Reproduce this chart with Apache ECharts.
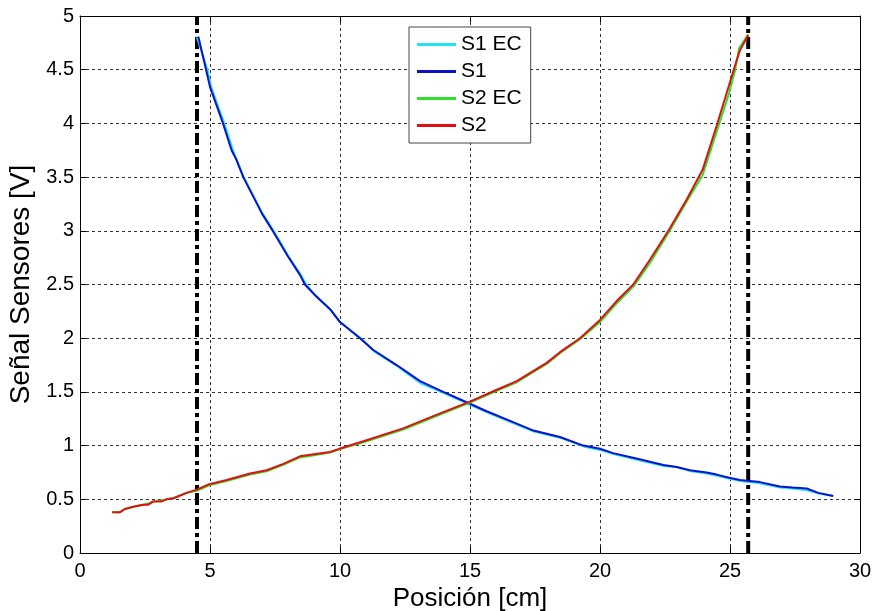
<!DOCTYPE html>
<html>
<head>
<meta charset="utf-8">
<script src="https://cdn.jsdelivr.net/npm/echarts@6/dist/echarts.min.js"></script>
<style>
  html, body { margin: 0; padding: 0; background: #fff; }
  #chart { width: 874px; height: 611px; }
</style>
</head>
<body>
<div id="chart"></div>
<script>
// Sensor 1 signal vs position (measured and EC variant)
const s1X   = [4.55, 4.85, 5.0, 5.5, 5.83, 6.0, 6.28, 7.0, 7.41, 8.0, 8.46, 8.65, 9.0, 9.62, 10.0, 10.77, 11.28, 12.18, 13.08, 13.97, 15.0, 15.64, 16.54, 17.44, 18.46, 19.36, 20.0, 20.5, 21.4, 22.44, 22.95, 23.46, 24.1, 24.49, 24.97, 25.38, 26.15, 26.92, 27.4, 27.95, 28.4, 28.97];
const s1Y   = [4.81, 4.5, 4.34, 4.0, 3.75, 3.67, 3.5, 3.16, 3.0, 2.76, 2.59, 2.5, 2.41, 2.27, 2.15, 2.0, 1.89, 1.75, 1.6, 1.5, 1.39, 1.32, 1.23, 1.14, 1.08, 1.0, 0.97, 0.93, 0.88, 0.82, 0.8, 0.77, 0.75, 0.73, 0.7, 0.68, 0.66, 0.62, 0.61, 0.6, 0.56, 0.53];
const s1ecX = [4.5, 4.9, 5.06, 5.55, 5.9, 6.3, 7.02, 7.45, 8.05, 8.52, 8.7, 9.05, 9.65, 10.0, 10.8, 11.3, 12.2, 13.1, 14.0, 15.0, 15.66, 16.56, 17.46, 18.5, 19.4, 20.0, 20.55, 21.4, 22.44, 22.95, 23.5, 24.1, 24.5, 25.0, 25.4, 26.15, 26.92, 27.4, 27.95, 28.4, 28.97];
const s1ecY = [4.8, 4.5, 4.33, 4.0, 3.74, 3.5, 3.16, 3.0, 2.75, 2.58, 2.5, 2.4, 2.26, 2.15, 2.0, 1.88, 1.74, 1.58, 1.49, 1.38, 1.31, 1.22, 1.13, 1.07, 0.99, 0.96, 0.92, 0.87, 0.81, 0.8, 0.76, 0.74, 0.72, 0.69, 0.67, 0.65, 0.61, 0.6, 0.585, 0.555, 0.53];

// Sensor 2 signal vs position (measured and EC variant)
const s2X   = [1.24, 1.54, 1.73, 2.05, 2.43, 2.63, 2.82, 3.14, 3.33, 3.59, 4.1, 4.49, 4.97, 5.64, 6.54, 7.18, 7.82, 8.46, 9.0, 9.62, 9.97, 10.9, 12.43, 13.85, 15.0, 16.03, 16.8, 17.95, 18.46, 19.23, 20.0, 20.7, 21.28, 21.92, 22.63, 23.33, 23.95, 24.49, 24.87, 25.17, 25.38, 25.7];
const s2Y   = [0.38, 0.38, 0.41, 0.43, 0.45, 0.45, 0.48, 0.48, 0.5, 0.51, 0.56, 0.59, 0.64, 0.68, 0.74, 0.77, 0.83, 0.9, 0.92, 0.94, 0.97, 1.04, 1.16, 1.3, 1.41, 1.52, 1.6, 1.77, 1.87, 2.0, 2.17, 2.36, 2.5, 2.73, 3.0, 3.29, 3.57, 3.98, 4.28, 4.52, 4.68, 4.82];
const s2ecX = [1.24, 1.54, 1.73, 2.05, 2.43, 2.63, 2.82, 3.14, 3.33, 3.59, 4.1, 4.49, 4.97, 5.64, 6.54, 7.18, 7.82, 8.46, 9.0, 9.62, 9.97, 10.9, 12.43, 13.85, 15.0, 16.03, 16.8, 17.95, 18.46, 19.23, 20.0, 20.7, 21.28, 21.92, 22.63, 23.33, 23.95, 24.55, 24.95, 25.2, 25.35, 25.7];
const s2ecY = [0.38, 0.38, 0.41, 0.43, 0.45, 0.46, 0.48, 0.49, 0.5, 0.51, 0.56, 0.58, 0.63, 0.67, 0.73, 0.76, 0.82, 0.89, 0.91, 0.935, 0.965, 1.03, 1.15, 1.29, 1.4, 1.51, 1.59, 1.76, 1.86, 1.99, 2.15, 2.34, 2.48, 2.7, 2.98, 3.27, 3.52, 3.97, 4.27, 4.5, 4.7, 4.83];

// Limits of the usable range (vertical dash-dot markers)
const limitPositions = [4.5, 25.7];

const seriesNames = ['S1 EC', 'S1', 'S2 EC', 'S2'];
const xTicks = { min: 0, max: 30, step: 5 };
const yTicks = { min: 0, max: 5, step: 0.5 };

const FONT = "'Liberation Sans', Arial, Helvetica, sans-serif";

function pairs(xs, ys) { return xs.map((x, i) => [x, ys[i]]); }

function curve(name, xs, ys, color) {
  return {
    name: name, type: 'line', data: pairs(xs, ys),
    symbol: 'none', smooth: false, animation: false,
    lineStyle: { color: color, width: 2 },
    itemStyle: { color: color }, z: 3
  };
}

function limitLine(x) {
  return {
    type: 'line', data: [[x, yTicks.min], [x, yTicks.max]],
    symbol: 'none', animation: false, silent: true, z: 2,
    lineStyle: { color: '#000', width: 4, type: [12, 4, 4, 4], cap: 'butt' }
  };
}

const gridDash = { show: true, lineStyle: { color: '#333', width: 1, type: [3, 3] } };
const tickIn = { show: true, inside: true, length: 6, lineStyle: { color: '#000' } };
const axisBlack = { show: true, onZero: false, lineStyle: { color: '#000', width: 1 } };

const chart = echarts.init(document.getElementById('chart'), null, { renderer: 'canvas' });
chart.setOption({
  backgroundColor: '#fff',
  animation: false,
  textStyle: { fontFamily: FONT },
  grid: { left: 80, right: 14, top: 16, bottom: 58, containLabel: false, outerBoundsMode: 'none' },
  legend: {
    data: seriesNames,
    icon: 'rect',
    orient: 'vertical', left: 409, top: 27,
    backgroundColor: '#fff', borderColor: '#444', borderWidth: 1,
    padding: [7, 9, 7, 8], itemWidth: 39, itemHeight: 3, itemGap: 6,
    textStyle: { fontFamily: FONT, fontSize: 21, color: '#000' }
  },
  xAxis: [{
    type: 'value', min: xTicks.min, max: xTicks.max, interval: xTicks.step,
    name: 'Posición [cm]', nameLocation: 'middle', nameGap: 32,
    nameTextStyle: { fontFamily: FONT, fontSize: 26, color: '#000' },
    axisLine: axisBlack, axisTick: tickIn, splitLine: gridDash,
    axisLabel: { fontFamily: FONT, fontSize: 20, color: '#000', margin: 8 }
  }, {
    type: 'value', position: 'top', min: xTicks.min, max: xTicks.max, interval: xTicks.step,
    axisLine: axisBlack, axisTick: tickIn, splitLine: { show: false }, axisLabel: { show: false }
  }],
  yAxis: [{
    type: 'value', min: yTicks.min, max: yTicks.max, interval: yTicks.step,
    name: 'Señal Sensores [V]', nameLocation: 'middle', nameGap: 42, nameRotate: 90,
    nameTextStyle: { fontFamily: FONT, fontSize: 28, color: '#000' },
    axisLine: axisBlack, axisTick: tickIn, splitLine: gridDash,
    axisLabel: { fontFamily: FONT, fontSize: 20, color: '#000', margin: 6 }
  }, {
    type: 'value', position: 'right', min: yTicks.min, max: yTicks.max, interval: yTicks.step,
    axisLine: axisBlack, axisTick: tickIn, splitLine: { show: false }, axisLabel: { show: false }
  }],
  series: [
    ...limitPositions.map(limitLine),
    curve(seriesNames[0], s1ecX, s1ecY, '#22e3f2'),
    curve(seriesNames[1], s1X, s1Y, '#0a12cc'),
    curve(seriesNames[2], s2ecX, s2ecY, '#2ee02a'),
    curve(seriesNames[3], s2X, s2Y, '#e01010')
  ]
});
</script>
</body>
</html>
